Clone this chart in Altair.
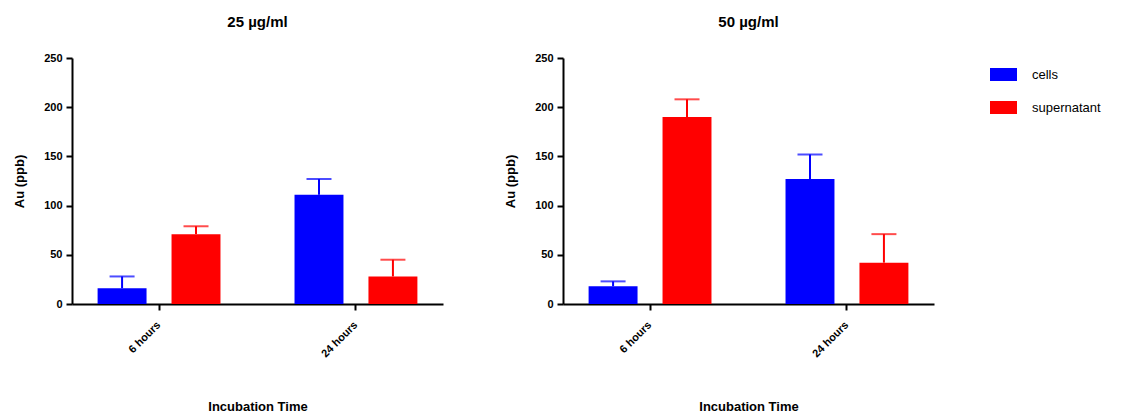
import altair as alt
import pandas as pd

panels = ["25 µg/ml", "50 µg/ml"]
times = ["6 hours", "24 hours"]
series = ["cells", "supernatant"]
# values per panel: [6h cells, 6h supernatant, 24h cells, 24h supernatant]
means = {
    "25 µg/ml": [16, 71, 111, 28],
    "50 µg/ml": [18, 190, 127, 42],
}
errs = {
    "25 µg/ml": [12, 8, 16, 17],
    "50 µg/ml": [5, 18, 25, 29],
}
colors = ["#0000ff", "#ff0000"]
y_ticks = [0, 50, 100, 150, 200, 250]

rows = []
for p in panels:
    i = 0
    for t in times:
        for s in series:
            m = means[p][i]
            e = errs[p][i]
            rows.append({"panel": p, "time": t, "series": s, "value": m, "top": m + e})
            i += 1
df = pd.DataFrame(rows)

FONT = "Liberation Sans"

color = alt.Color("series:N", scale=alt.Scale(domain=series, range=colors),
                  legend=alt.Legend(title=None))


def panel(p):
    d = df[df.panel == p]
    base = alt.Chart(d).encode(
        x=alt.X("time:N", sort=times,
                scale=alt.Scale(paddingInner=0.376, paddingOuter=0.13),
                axis=alt.Axis(title="Incubation Time", labelAngle=-45, labelAlign="right",
                              labelBaseline="middle", labelPadding=13, titlePadding=42)),
        xOffset=alt.XOffset("series:N", sort=series,
                            scale=alt.Scale(paddingInner=0.338, paddingOuter=0)),
    )
    yscale = alt.Scale(domain=[0, 250], nice=False)
    bars = base.mark_bar().encode(
        y=alt.Y("value:Q", scale=yscale,
                axis=alt.Axis(title="Au (ppb)", values=y_ticks, titlePadding=17, labelPadding=4)),
        color=color,
    )
    rule = base.mark_rule(strokeWidth=2).encode(
        y="value:Q", y2="top:Q", color=color)
    cap = base.mark_tick(size=25, thickness=2).encode(
        y="top:Q", color=color)
    return alt.layer(bars, rule, cap).properties(
        width=371, height=246,
        title=alt.Title(p, fontSize=15, fontWeight="bold", font=FONT, offset=22, color="black"),
    )


chart = alt.hconcat(panel(panels[0]), panel(panels[1]), spacing=61).properties(
    padding={"top": 7, "left": 5, "right": 0, "bottom": 0}
).configure_view(
    stroke=None
).configure_axis(
    domainColor="black", domainWidth=2, tickColor="black", tickWidth=2, tickSize=6,
    labelFont=FONT, labelFontSize=11, labelFontWeight="bold", labelColor="black",
    titleFont=FONT, titleFontSize=13, titleFontWeight="bold", titleColor="black",
    grid=False,
).configure_legend(
    orient="right", offset=53, labelFont=FONT, labelFontSize=13, labelColor="black",
    symbolType="M-1,-0.48L1,-0.48L1,0.48L-1,0.48Z", symbolSize=729,
    symbolStrokeWidth=0, symbolOpacity=1, rowPadding=12, labelOffset=15, padding=3,
)

chart.save("out.html", embed_options={"renderer": "svg", "actions": False})
